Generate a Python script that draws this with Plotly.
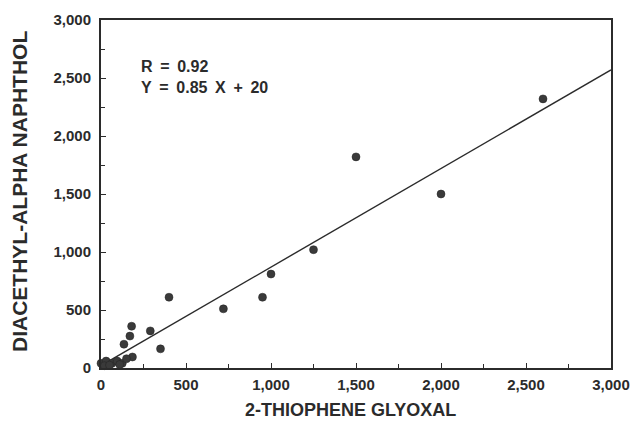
import plotly.graph_objects as go

# Data
x_vals = [1500, 2000, 2600, 1250, 1000, 950, 720, 400, 290, 180, 170, 135, 350, 185,
          0, 30, 65, 95, 125, 150, 20, 50, 110]
y_vals = [1820, 1500, 2320, 1020, 810, 610, 510, 610, 320, 360, 275, 205, 165, 95,
          40, 60, 40, 60, 40, 80, 20, 25, 30]
slope = 0.85
intercept = 20
fit_x = [0, 3000]
fit_y = [slope * v + intercept for v in fit_x]
tick_vals = [0, 500, 1000, 1500, 2000, 2500, 3000]
tick_text = ["0", "500", "1,000", "1,500", "2,000", "2,500", "3,000"]
x_title = "2-THIOPHENE GLYOXAL"
y_title = "DIACETHYL-ALPHA NAPHTHOL"
stats_lines = ["R = 0.92", "Y = 0.85 X + 20"]

FONT = "Liberation Sans, Arial, sans-serif"
INK = "#2b2b2b"

W, H = 635, 426
ML, MR, MT, MB = 101, 24, 20, 58

fig = go.Figure()
fig.add_trace(go.Scatter(x=fit_x, y=fit_y, mode="lines",
                         line=dict(color=INK, width=1.4), hoverinfo="skip",
                         cliponaxis=True))
fig.add_trace(go.Scatter(x=x_vals, y=y_vals, mode="markers",
                         marker=dict(color="#3a3a3a", size=8,
                                     line=dict(color="#222", width=0.5)),
                         cliponaxis=False))

axis_common = dict(
    range=[0, 3000], tickvals=tick_vals, ticktext=tick_text,
    ticks="inside", ticklen=5, tickwidth=1, tickcolor=INK,
    minor=dict(ticks="inside", dtick=250, ticklen=4, tickcolor=INK),
    showline=True, linecolor=INK, linewidth=2, mirror=True,
    showgrid=False, zeroline=False, automargin=False,
    tickfont=dict(family=FONT, size=15, color=INK, weight="bold"),
)

fig.update_xaxes(**axis_common, ticklabelstandoff=2)
fig.update_yaxes(**axis_common, ticklabelstandoff=5)

pw, ph = W - ML - MR, H - MT - MB

def px_to_paper(xw, yw):
    return (xw - ML) / pw, (H - MB - yw) / ph

xt, yt = px_to_paper(350, 410)
fig.add_annotation(x=xt, y=yt, xref="paper", yref="paper", text=x_title,
                   showarrow=False, xanchor="center", yanchor="middle",
                   font=dict(family=FONT, size=18, color=INK, weight="bold"))
xt, yt = px_to_paper(20, 192)
fig.add_annotation(x=xt, y=yt, xref="paper", yref="paper", text=y_title,
                   textangle=-90, showarrow=False, xanchor="center", yanchor="middle",
                   font=dict(family=FONT, size=21, color=INK, weight="bold"))

xs, ys = px_to_paper(139, 56)
fig.add_annotation(x=xs, y=ys, xref="paper", yref="paper",
                   text="<br>".join(s.replace(" ", "\u2009 ") for s in stats_lines),
                   showarrow=False,
                   xanchor="left", yanchor="top", align="left",
                   font=dict(family=FONT, size=16, color=INK, weight="bold"))

fig.update_layout(
    width=W, height=H,
    margin=dict(l=ML, r=MR, t=MT, b=MB),
    plot_bgcolor="white", paper_bgcolor="white",
    showlegend=False, hovermode=False,
)

# remove the default page margin so the figure fills the window exactly
fig.write_html("out.html",
               config={"displayModeBar": False, "staticPlot": True},
               post_script="document.body.style.margin='0';document.body.style.overflow='hidden';")
